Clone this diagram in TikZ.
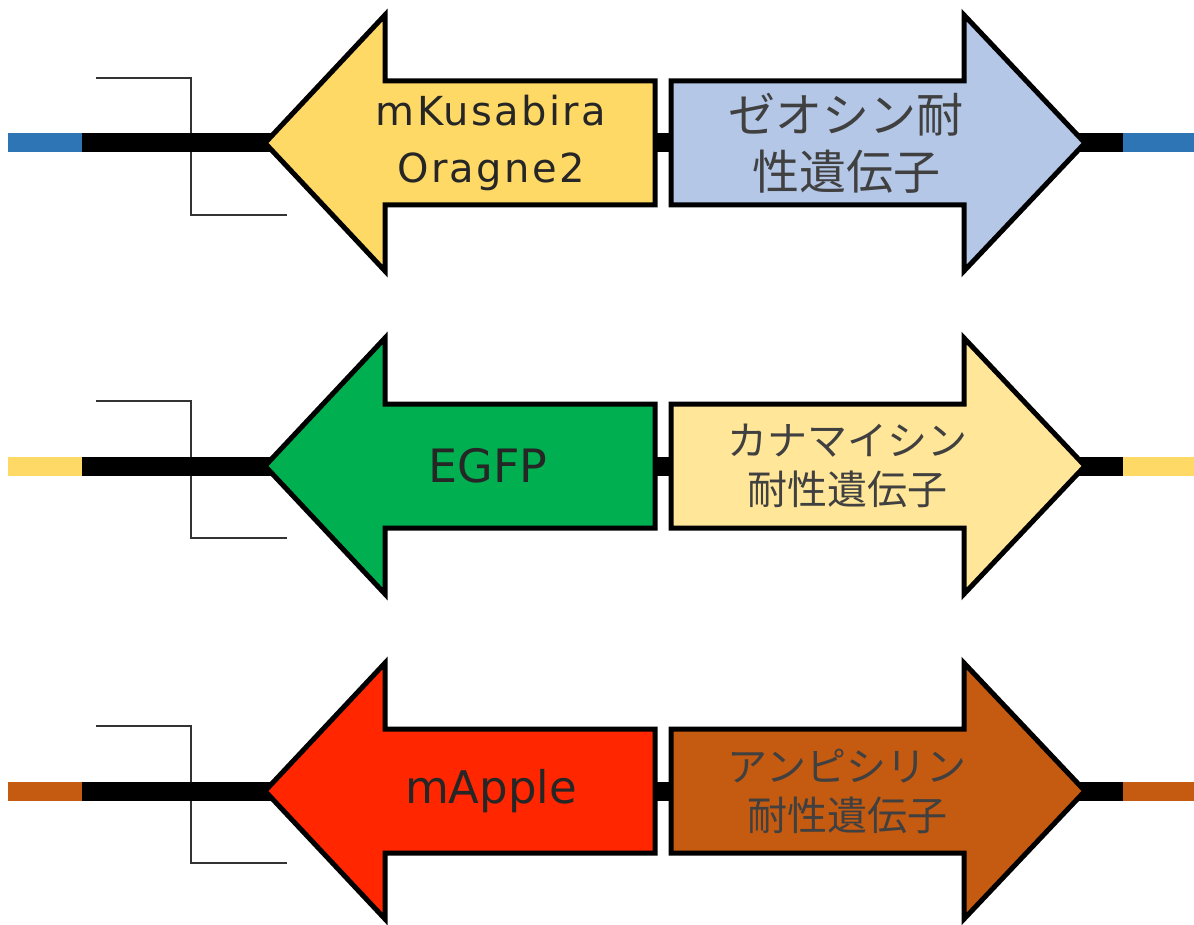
\documentclass[tikz,border=0pt]{standalone}
\usepackage{fontspec}
\setmainfont{DejaVu Sans}
\newfontfamily\jpfont{Noto Sans CJK JP}
\newfontfamily\latfont[LetterSpace=6]{DejaVu Sans}
\definecolor{cYellow}{HTML}{FFD966}
\definecolor{cLBlue}{HTML}{B4C7E7}
\definecolor{cBlue}{HTML}{2E75B6}
\definecolor{cGreen}{HTML}{00B050}
\definecolor{cLYellow}{HTML}{FFE699}
\definecolor{cRed}{HTML}{FF2600}
\definecolor{cBrown}{HTML}{C55A11}
\definecolor{txtLat}{HTML}{262626}
\definecolor{txtJp}{HTML}{404040}
\tikzset{
  dnaline/.style={line width=19pt, line cap=butt},
  promoter/.style={draw=black!80, line width=1.6pt},
  genebox/.style={draw=black, line width=5pt, line join=miter},
  lattext/.style={text=txtLat, align=center, inner sep=0pt},
  jptext/.style={text=txtJp, align=center, inner sep=0pt},
}
% #1 row id, #2 center y, #3 left fill, #4 right fill, #5 end colour
\newcommand\generow[5]{%
  \coordinate (#1e0) at (8,#2);
  \coordinate (#1e1) at (83,#2);
  \coordinate (#1e2) at (82,#2);
  \coordinate (#1tl) at (272,#2);
  \coordinate (#1m0) at (650,#2);
  \coordinate (#1m1) at (676,#2);
  \coordinate (#1tr) at (1078,#2);
  \coordinate (#1f0) at (1124,#2);
  \coordinate (#1f1) at (1123,#2);
  \coordinate (#1f2) at (1194,#2);
  \coordinate (#1p0) at (96,{#2-65});
  \coordinate (#1p1) at (191,{#2+72});
  \coordinate (#1p2) at (287,{#2+72});
  \draw[promoter] (#1p0) -| (#1p1) -- (#1p2);
  \draw[dnaline, draw=#5] (#1e0) -- (#1e1);
  \draw[dnaline, draw=black] (#1e2) -- (#1tl);
  \draw[dnaline, draw=black] (#1m0) -- (#1m1);
  \draw[dnaline, draw=black] (#1tr) -- (#1f0);
  \draw[dnaline, draw=#5] (#1f1) -- (#1f2);
  \draw[genebox, fill=#3] (655,{#2-62}) -- (385,{#2-62}) -- (385,{#2-128})
     -- (265,#2) -- (385,{#2+128}) -- (385,{#2+62}) -- (655,{#2+62}) -- cycle;
  \draw[genebox, fill=#4] (671,{#2-62}) -- (964,{#2-62}) -- (964,{#2-128})
     -- (1085,#2) -- (964,{#2+128}) -- (964,{#2+62}) -- (671,{#2+62}) -- cycle;
}
\begin{document}
\begin{tikzpicture}[x=1pt,y=-1pt]
\useasboundingbox (0,0) rectangle (1194,925);
\generow{a}{143}{cYellow}{cLBlue}{cBlue}
\generow{b}{466}{cGreen}{cLYellow}{cYellow}
\generow{c}{791}{cRed}{cBrown}{cBrown}
\node[lattext, font=\latfont\fontsize{40}{57}\selectfont] (aL) at (491,143) {mKusabira\\Oragne2};
\node[jptext, font=\jpfont\fontsize{47}{57}\selectfont] (aR) at (846,143) {ゼオシン耐\\性遺伝子};
\node[lattext, font=\fontsize{46}{55}\selectfont] (bL) at (488,466) {EGFP};
\node[jptext, font=\jpfont\fontsize{40}{49}\selectfont] (bR) at (847,466) {カナマイシン\\耐性遺伝子};
\node[lattext, font=\fontsize{45}{55}\selectfont] (cL) at (491,791) {mApple};
\node[jptext, font=\jpfont\fontsize{40}{49}\selectfont] (cR) at (847,791) {アンピシリン\\耐性遺伝子};
\end{tikzpicture}
\end{document}
